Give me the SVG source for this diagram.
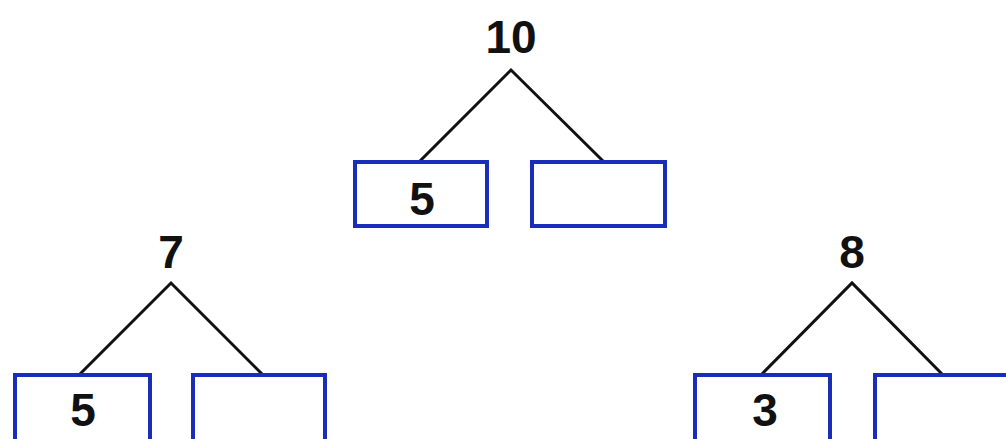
<svg xmlns="http://www.w3.org/2000/svg" width="1006" height="439" viewBox="0 0 1006 439">
<style>
.box{fill:#fff;stroke:#1a2db8;stroke-width:4}
.ln{stroke:#111;stroke-width:3;fill:none;stroke-linejoin:miter}
.t{font-family:"Liberation Sans",Arial,sans-serif;font-size:46px;font-weight:bold;fill:#111;text-anchor:middle}
</style>
<rect width="1006" height="439" fill="#fff"/>
<g id="connectors">
<polyline class="ln" points="420,161 511,70 603,161"/>
<polyline class="ln" points="80,374 171,283 262,374"/>
<polyline class="ln" points="762,374 852,283 942,374"/>
</g>
<g id="n10"><text class="t" x="511" y="53">10</text></g>
<g id="n10a"><rect class="box" x="355" y="162" width="132" height="64"/><text class="t" x="422" y="215">5</text></g>
<g id="n10b"><rect class="box" x="532" y="162" width="133" height="64"/></g>
<g id="n7"><text class="t" x="171" y="268">7</text></g>
<g id="n7a"><rect class="box" x="15" y="375" width="135" height="70"/><text class="t" x="83" y="426">5</text></g>
<g id="n7b"><rect class="box" x="193" y="375" width="132" height="70"/></g>
<g id="n8"><text class="t" x="852" y="268">8</text></g>
<g id="n8a"><rect class="box" x="695" y="375" width="135" height="70"/><text class="t" x="765" y="426">3</text></g>
<g id="n8b"><rect class="box" x="875" y="375" width="140" height="70"/></g>
</svg>
